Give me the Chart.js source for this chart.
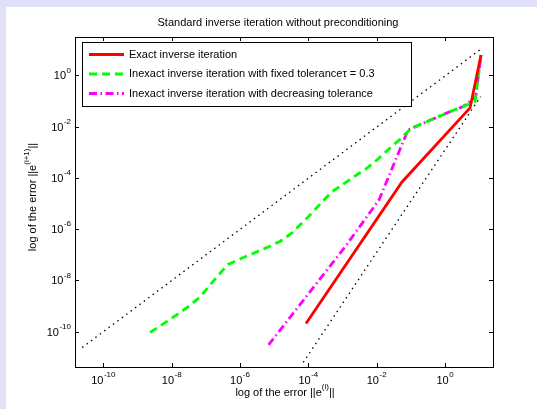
<!DOCTYPE html>
<html>
<head>
<meta charset="utf-8">
<script src="https://cdn.jsdelivr.net/npm/chart.js@4/dist/chart.umd.min.js"></script>
<style>
  html, body { margin: 0; padding: 0; background: #e0e0f8; }
  #fig { position: absolute; left: 6px; top: 7px; width: 531px; height: 402px; background: #fff; }
  canvas { display: block; }
</style>
</head>
<body>
<div id="fig"><canvas id="chart" width="531" height="402"></canvas></div>
<script>
// error of step i (x) against error of step i+1 (y)
const exactErr  = [8.55e-5, 5.52e-2, 5.40, 11.35];
const exactNext = [2.09e-10, 6.97e-5, 5.38e-2, 6.31];

const fixedErr  = [2.33e-9, 7.31e-9, 3.01e-8, 6.76e-8, 2.28e-7, 4.46e-7, 1.0e-6, 2.40e-6, 6.18e-6, 1.48e-5,
                   3.33e-5, 6.53e-5, 1.28e-4, 2.51e-4, 4.93e-4, 1.04e-3, 2.32e-3, 5.21e-3, 1.02e-2, 2.15e-2,
                   4.82e-2, 9.46e-2, 2.27e-1, 5.83e-1, 1.40, 3.37, 7.57, 11.35];
const fixedNext = [9.3e-11, 2.51e-10, 9.2e-10, 2.26e-9, 1.56e-8, 4.2e-8, 6.89e-8, 1.13e-7, 1.94e-7, 3.32e-7,
                   7.13e-7, 1.75e-6, 4.30e-6, 1.15e-5, 2.92e-5, 5.66e-5, 1.19e-4, 2.39e-4, 5.04e-4, 1.24e-3,
                   3.24e-3, 7.80e-3, 1.36e-2, 2.33e-2, 3.86e-2, 6.05e-2, 9.66e-2, 6.31];

const decrErr  = [6.84e-6, 1.18e-3, 1.17e-2, 8.26e-2, 2.27e-1, 5.83e-1, 1.40, 3.37, 7.94, 11.35];
const decrNext = [3.03e-11, 2.02e-7, 1.38e-5, 7.46e-3, 1.36e-2, 2.33e-2, 3.86e-2, 6.05e-2, 1.45e-1, 6.31];

// reference slopes: linear and quadratic convergence
const linErr   = [2.4e-11, 12.1];
const linNext  = [2.4e-11, 11.5];
const quadErr  = [7.1e-5, 11];
const quadNext = [6.3e-12, 0.15];

const xTickExp = [-10, -8, -6, -4, -2, 0];
const yTickExp = [-10, -8, -6, -4, -2, 0];

const labels = [
  'Exact inverse iteration',
  'Inexact inverse iteration with fixed tolerance\u03c4 = 0.3',
  'Inexact inverse iteration with decreasing tolerance'
];

const FONT = '"Liberation Sans", Arial, Helvetica, sans-serif';

function pts(xs, ys) {
  return xs.map((v, i) => ({ x: v, y: ys[i] }));
}

// "10" with a raised exponent
function drawPower(ctx, exp, x, y, align) {
  ctx.font = '11px ' + FONT;
  const wb = ctx.measureText('10').width;
  ctx.font = '8px ' + FONT;
  const sup = String(exp);
  const ws = ctx.measureText(sup).width;
  const total = wb + ws + 0.5;
  let start = x - total / 2;
  if (align === 'right') start = x - total;
  ctx.textAlign = 'left';
  ctx.textBaseline = 'middle';
  ctx.font = '11px ' + FONT;
  ctx.fillText('10', start, y);
  ctx.font = '8px ' + FONT;
  ctx.fillText(sup, start + wb + 0.5, y - 6);
}

// text with a superscript piece followed by a tail, centered on x
function drawSupText(ctx, head, sup, tail, x, y) {
  ctx.font = '11px ' + FONT;
  const wh = ctx.measureText(head).width;
  const wt = ctx.measureText(tail).width;
  ctx.font = '8px ' + FONT;
  const ws = ctx.measureText(sup).width;
  let cx = x - (wh + ws + wt) / 2;
  ctx.textAlign = 'left';
  ctx.textBaseline = 'middle';
  ctx.font = '11px ' + FONT;
  ctx.fillText(head, cx, y);
  cx += wh;
  ctx.font = '8px ' + FONT;
  ctx.fillText(sup, cx, y - 6);
  cx += ws;
  ctx.font = '11px ' + FONT;
  ctx.fillText(tail, cx, y);
}

const axesBox = {
  id: 'axesBox',
  afterDraw(chart) {
    const { ctx, chartArea: a, scales: { x, y } } = chart;
    ctx.save();
    ctx.strokeStyle = '#000';
    ctx.fillStyle = '#000';
    ctx.lineWidth = 1;
    ctx.strokeRect(a.left + 0.5, a.top + 0.5, a.right - a.left, a.bottom - a.top);

    // ticks point inwards on all four sides
    ctx.beginPath();
    xTickExp.forEach(e => {
      const px = Math.round(x.getPixelForValue(10 ** e)) + 0.5;
      ctx.moveTo(px, a.bottom); ctx.lineTo(px, a.bottom - 4);
      ctx.moveTo(px, a.top); ctx.lineTo(px, a.top + 4);
    });
    yTickExp.forEach(e => {
      const py = Math.round(y.getPixelForValue(10 ** e)) + 0.5;
      ctx.moveTo(a.left, py); ctx.lineTo(a.left + 4, py);
      ctx.moveTo(a.right, py); ctx.lineTo(a.right - 4, py);
    });
    ctx.stroke();

    xTickExp.forEach(e => drawPower(ctx, e, x.getPixelForValue(10 ** e), a.bottom + 14, 'center'));
    yTickExp.forEach(e => drawPower(ctx, e, a.left - 4, y.getPixelForValue(10 ** e) + 1, 'right'));

    // title and axis labels
    ctx.font = '11px ' + FONT;
    ctx.textAlign = 'center';
    ctx.textBaseline = 'middle';
    ctx.fillText('Standard inverse iteration without preconditioning', 272, 16);
    drawSupText(ctx, 'log of the error ||e', '(i)', '||', 279, 386);
    ctx.save();
    ctx.translate(27, 190);
    ctx.rotate(-Math.PI / 2);
    drawSupText(ctx, 'log of the error ||e', '(i+1)', '||', 0, 0);
    ctx.restore();

    // legend box inside the axes
    const bx = 76, by = 35, bw = 329, bh = 64;
    ctx.fillStyle = '#fff';
    ctx.fillRect(bx, by, bw, bh);
    ctx.strokeStyle = '#000';
    ctx.strokeRect(bx + 0.5, by + 0.5, bw, bh);
    const rows = [47.5, 67, 86.5];
    chart.data.datasets.slice(0, 3).forEach((ds, i) => {
      ctx.strokeStyle = ds.borderColor;
      ctx.lineWidth = ds.borderWidth;
      ctx.setLineDash(ds.borderDash || []);
      ctx.beginPath();
      ctx.moveTo(83, rows[i]);
      ctx.lineTo(118, rows[i]);
      ctx.stroke();
      ctx.setLineDash([]);
      ctx.fillStyle = '#000';
      ctx.font = '11px ' + FONT;
      ctx.textAlign = 'left';
      ctx.textBaseline = 'middle';
      ctx.fillText(ds.label, 123, rows[i]);
    });
    ctx.restore();
  }
};

const base = { showLine: true, pointRadius: 0, pointHoverRadius: 0, fill: false, tension: 0 };

new Chart(document.getElementById('chart'), {
  type: 'scatter',
  data: {
    datasets: [
      { ...base, label: labels[0], data: pts(exactErr, exactNext),
        borderColor: '#ff0000', borderWidth: 2.8 },
      { ...base, label: labels[1], data: pts(fixedErr, fixedNext),
        borderColor: '#00ff00', borderWidth: 2.8, borderDash: [8, 5] },
      { ...base, label: labels[2], data: pts(decrErr, decrNext),
        borderColor: '#ff00ff', borderWidth: 2.8, borderDash: [8, 3.5, 1.5, 3.5] },
      { ...base, label: 'linear', data: pts(linErr, linNext),
        borderColor: '#000', borderWidth: 1.3, borderDash: [1.5, 4] },
      { ...base, label: 'quadratic', data: pts(quadErr, quadNext),
        borderColor: '#000', borderWidth: 1.3, borderDash: [1.5, 4] }
    ]
  },
  options: {
    responsive: false,
    animation: false,
    events: [],
    layout: { padding: { left: 69, top: 30, right: 44, bottom: 42 } },
    plugins: { legend: { display: false }, tooltip: { enabled: false } },
    scales: {
      x: { type: 'logarithmic', display: false, min: 10 ** -10.83, max: 10 ** 1.405 },
      y: { type: 'logarithmic', display: false, min: 10 ** -11.38, max: 10 ** 1.5 }
    }
  },
  plugins: [axesBox]
});
</script>
</body>
</html>
